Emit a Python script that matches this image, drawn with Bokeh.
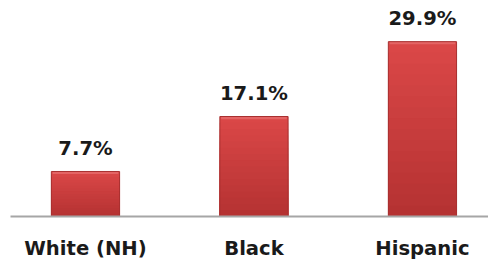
from bokeh.plotting import figure
from bokeh.models import Range1d, FixedTicker, ColumnDataSource
from bokeh.core.properties import value
from bokeh.embed import file_html
from bokeh.resources import INLINE

categories = ["White (NH)", "Black", "Hispanic"]
rates = [7.7, 17.1, 29.9]
labels = ["7.7%", "17.1%", "29.9%"]

xs = list(range(len(categories)))

p = figure(width=488, height=262, output_backend="svg", toolbar_location=None,
           x_range=Range1d(-0.445, 2.392), y_range=Range1d(0, 35.57),
           min_border_left=10, min_border_right=0, min_border_top=8, min_border_bottom=0)
p.outline_line_color = None
p.grid.grid_line_color = None
p.yaxis.visible = False
p.background_fill_color = "white"
p.border_fill_color = "white"

# gradient-like bars: overlaid bars, light top to dark bottom
top_rgb = (0xDA, 0x47, 0x47)
bot_rgb = (0xB3, 0x31, 0x31)
N = 16
for i in range(N):
    t = 1 - i / N
    c = tuple(int(round(bot_rgb[k] + (top_rgb[k] - bot_rgb[k]) * t)) for k in range(3))
    col = "#%02x%02x%02x" % c
    p.vbar(x=xs, width=0.405, bottom=0, top=[v * (N - i) / N for v in rates],
           fill_color=col, line_color=None)
# light bevel at top
p.vbar(x=xs, width=0.39, bottom=[v - 0.45 for v in rates], top=rates,
       fill_color="#e46464", line_color=None)
# outline
p.vbar(x=xs, width=0.405, bottom=0, top=rates, fill_color=None,
       line_color="#a83030", line_width=1)

src = ColumnDataSource(dict(x=xs, y=rates, t=labels))
p.text(x="x", y="y", text="t", source=src, text_align="center",
       text_baseline="alphabetic", y_offset=-23,
       text_font=value("DejaVu Sans"), text_font_style="bold",
       text_font_size="19.6px", text_color="#1a1a1a")

p.xaxis.ticker = FixedTicker(ticks=xs)
p.xaxis.major_label_overrides = {i: c for i, c in zip(xs, categories)}
p.xaxis.major_tick_line_color = None
p.xaxis.minor_tick_line_color = None
p.xaxis.axis_line_color = "#a6a6a6"
p.xaxis.axis_line_width = 2
p.xaxis.major_label_standoff = 14
p.xaxis.major_label_text_font = "DejaVu Sans"
p.xaxis.major_label_text_font_style = "bold"
p.xaxis.major_label_text_font_size = "19.6px"
p.xaxis.major_label_text_color = "#1a1a1a"

open("out.html", "w").write(file_html(p, INLINE))
